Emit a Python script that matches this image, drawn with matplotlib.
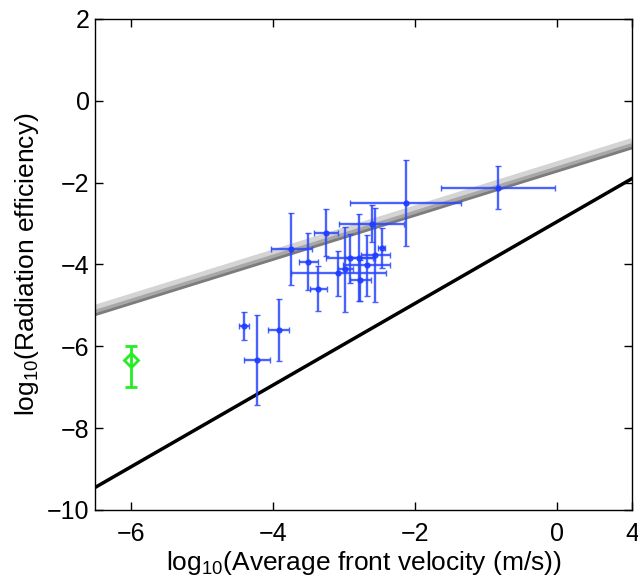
import numpy as np
import matplotlib
matplotlib.use("Agg")
import matplotlib.pyplot as plt

plt.rcParams["font.family"] = ["Liberation Sans", "DejaVu Sans"]
plt.rcParams["mathtext.fontset"] = "custom"
plt.rcParams["mathtext.rm"] = "Liberation Sans"

# blue measurements: log10 velocity, log10 efficiency, and their errors
vel = [-2.13, -0.84, -2.61, -3.25, -3.74, -3.50, -3.36, -3.08, -2.98, -2.91,
       -2.79, -2.68, -2.77, -2.56, -2.47, -4.40, -3.92, -4.22]
eff = [-2.49, -2.12, -3.00, -3.22, -3.63, -3.93, -4.59, -4.22, -4.12, -3.85,
       -3.83, -4.02, -4.39, -3.76, -3.59, -5.51, -5.61, -6.34]
vel_err = [0.78, 0.80, 0.46, 0.17, 0.29, 0.13, 0.12, 0.67, 0.10, 0.35,
           0.20, 0.33, 0.15, 0.20, 0.05, 0.07, 0.15, 0.18]
eff_err = [1.05, 0.52, 0.45, 0.57, 0.88, 0.70, 0.55, 0.55, 1.03, 0.60,
           1.07, 0.75, 0.50, 1.15, 0.49, 0.34, 0.76, 1.10]

# green point (asymmetric y error)
g_vel = [-6.0]
g_eff = [-6.34]
g_err_lo = [0.66]
g_err_hi = [0.34]

# reference lines: slope, intercept
black_slope, black_icpt = 1.0, -2.95
gray_slope = 0.54
gray_icpts = [-1.58, -1.66, -1.72]
gray_cols = ["#d4d4d4", "#a8a8a8", "#7c7c7c"]
gray_lws = [6, 3.5, 2]

xlim = (-6.5, 1.05)
xticks = [-6, -4, -2, 0, 1.05]
xticklabels = ["\u22126", "\u22124", "\u22122", "0", "4"]
yticks = [-10, -8, -6, -4, -2, 0, 2]

fig = plt.figure(figsize=(6.38, 5.86), dpi=100)
ax = fig.add_axes([0.149, 0.1297, 0.8417, 0.838])

xs = np.array(xlim)
for c, col, lw in zip(gray_icpts, gray_cols, gray_lws):
    ax.plot(xs, gray_slope * xs + c, color=col, lw=lw, solid_capstyle="butt", zorder=2)
ax.plot(xs, black_slope * xs + black_icpt, color="k", lw=2.5, zorder=2)

ax.errorbar(vel, eff, xerr=vel_err, yerr=eff_err, fmt="o", ms=3.5,
            color="#1f3dff", ecolor="#2a48ff", elinewidth=1.7, capsize=2.5,
            alpha=0.85, zorder=3)
ax.errorbar(g_vel, g_eff, yerr=[g_err_lo, g_err_hi], fmt="D", ms=7,
            mfc="none", mec="#22ee22", mew=2, ecolor="#22ee22",
            elinewidth=2, capsize=4, capthick=2, zorder=4)

ax.set_xlim(*xlim)
ax.set_ylim(-10, 2)
ax.set_xticks(xticks)
ax.set_xticklabels(xticklabels)
ax.set_yticks(yticks)
ax.tick_params(direction="in", top=True, right=True, length=6, width=1,
               labelsize=18)
ax.tick_params(axis="x", pad=9)
ax.tick_params(axis="y", pad=4)
for s in ax.spines.values():
    s.set_linewidth(1)

ax.set_xlabel(r"log$_{10}$(Average front velocity (m/s))", fontsize=19, labelpad=2)
ax.set_ylabel(r"log$_{10}$(Radiation efficiency)", fontsize=19, labelpad=4)

fig.savefig("out.png", dpi=100)
